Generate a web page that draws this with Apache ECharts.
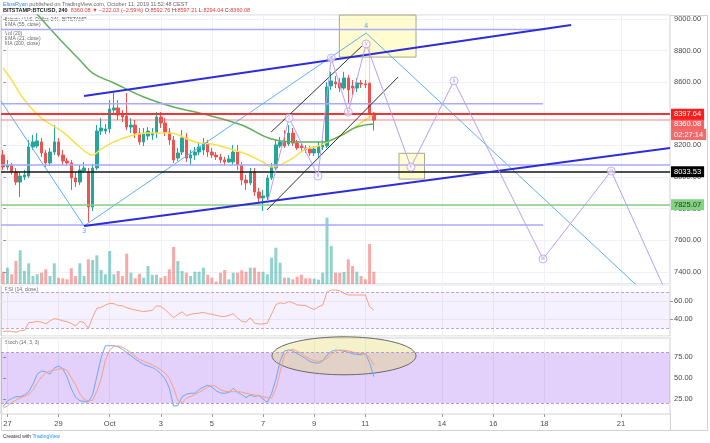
<!DOCTYPE html>
<html>
<head>
<meta charset="utf-8">
<title>BTCUSD 240</title>
<script src="https://cdn.jsdelivr.net/npm/echarts@6.0.0/dist/echarts.min.js"></script>
<style>
  html, body { margin: 0; padding: 0; background: #fff; }
  #main { width: 710px; height: 443px; }
</style>
</head>
<body>
<div id="main"></div>
<script>
var FONT = 'Liberation Sans, Arial, sans-serif';

// 4h bars, bar 0 = Sep 26 20:00
var barCount = 157;
var dayBars = [1, 13, 25, 37, 49, 61, 73, 85, 103, 115, 127, 145];
var dayLabels = ['27', '29', 'Oct', '3', '5', '7', '9', '11', '14', '16', '18', '21'];

// [open, close, low, high]
var candles = [
  [8139,8063,8044,8171],[8063,8076,8044,8108],[8076,8032,8013,8089],[8032,7968,7949,8057],
  [7968,8006,7873,8032],[8000,8013,7981,8044],[8006,8190,7994,8234],[8190,8222,8171,8266],
  [8196,8228,8184,8278],[8222,8152,8127,8247],[8152,8089,8063,8171],[8089,8158,8070,8184],
  [8158,8222,8139,8329],[8222,8139,8127,8247],[8139,8101,8076,8171],[8101,8089,8070,8120],
  [8089,7994,7918,8108],[7994,7968,7937,8032],[7968,8044,7949,8076],[8038,8057,8025,8095],
  [8032,7810,7715,8057],[7810,8057,7785,8082],[8057,8291,8044,8329],[8291,8310,8266,8373],
  [8291,8304,8272,8335],[8304,8430,8278,8487],[8424,8437,8399,8532],[8437,8392,8361,8487],
  [8392,8380,8348,8424],[8386,8316,8297,8532],[8316,8329,8278,8373],[8329,8278,8247,8361],
  [8278,8222,8203,8310],[8222,8278,8196,8310],[8259,8291,8234,8316],[8266,8278,8234,8310],
  [8278,8380,8247,8411],[8380,8342,8310,8411],[8342,8285,8259,8373],[8285,8234,8203,8310],
  [8234,8108,8089,8259],[8120,8152,8101,8184],[8158,8247,8139,8297],[8247,8120,8095,8278],
  [8120,8139,8076,8171],[8139,8158,8108,8190],[8158,8190,8139,8215],[8171,8215,8139,8247],
  [8215,8158,8127,8234],[8158,8139,8120,8184],[8139,8127,8108,8158],[8127,8108,8089,8146],
  [8108,8095,8070,8127],[8095,8114,8089,8139],[8095,8158,8076,8203],[8158,8076,8044,8203],
  [8076,7981,7949,8095],[7981,7962,7918,8013],[7962,8032,7949,8057],[8032,7905,7880,8057],
  [7905,7867,7835,7930],[7867,7880,7785,7918],[7873,7994,7854,8013],[7994,8063,7981,8089],
  [8057,8203,8044,8234],[8196,8222,8184,8253],[8222,8196,8184,8297],[8209,8278,8196,8329],
  [8278,8215,8196,8310],[8215,8184,8171,8234],[8196,8184,8165,8215],[8184,8171,8152,8203],
  [8177,8152,8133,8196],[8152,8177,8133,8196],[8152,8196,8120,8222],[8190,8203,8171,8234],
  [8196,8570,8184,8601],[8576,8608,8551,8665],[8601,8589,8563,8639],[8595,8563,8538,8627],
  [8563,8627,8551,8665],[8627,8551,8468,8646],[8576,8563,8519,8614],[8563,8595,8538,8627],
  [8595,8589,8563,8614],[8589,8582,8563,8614],[8592.76,8405,8392,8597.21],[8405,8360.08,8294.04,8410]
];

var volumes = [
  1230,1630,970,2300,3370,1300,2070,800,970,1130,
  1470,800,2070,630,570,470,1570,800,2070,800,
  2470,2400,2870,1400,970,3300,970,1300,800,3030,
  1130,570,1030,630,1800,930,930,630,800,1470,
  3700,2300,1300,1130,800,1230,1230,1630,930,630,
  230,1130,1400,470,1130,1130,1370,1230,1630,1630,
  1230,1230,970,2630,3630,2130,630,630,470,730,
  930,570,570,530,430,1130,6630,3800,1130,1130,
  1200,2470,1800,1230,800,470,4000,1230
];

// [bar, price]
var ema21 = [[0,8690],[2,8614],[5,8487],[9,8373],[14,8285],[18,8190],[21,8139],[23,8177],
  [26,8222],[29,8253],[34,8278],[39,8278],[45,8222],[50,8203],[54,8171],[57,8146],[61,8095],
  [63,8063],[65,8076],[68,8120],[71,8177],[74,8196],[77,8234],[80,8272],[83,8323],[85,8361],[87,8399]];
var ma200 = [[1,9240],[8,9030],[13,8880],[18,8741],[21,8658],[26,8595],[33,8506],[40,8443],
  [48,8392],[56,8329],[63,8241],[70,8222],[75,8222],[79,8259],[83,8316],[87,8335]];

var rsi = [
  26,26.5,26.3,25.2,27,27.2,36,36.3,37.5,36.5,
  34.6,37.8,40.5,39.5,38,37,35,32.2,37.5,36,
  29.6,42,51.9,53,55.5,57.4,57,55,54.8,52.5,
  51.2,50,49,48.2,49,49.5,54.8,54,50.5,46,
  41.4,45,48,43.7,45.2,46,46.5,47.4,45.8,45.3,
  44,43,42.8,44,46,41,37.5,36.5,41.5,35.5,
  34.4,34.6,35.5,45.5,56,58,57,59.5,58,55.6,
  55.2,54.9,52.5,50.5,53.7,55.4,70,72.2,72.2,71.5,
  68.5,66.7,66.7,66.7,66.7,66.7,53.7,50
];
var stochK = [
  15.7,22.5,25.5,27.6,27.6,29.5,33.5,42.5,54.5,58.2,
  57.2,54.6,61.5,64.2,61,51,37,27,22.7,22,
  21.5,30,52,74,88.3,88.3,88.3,87,84,80,
  76.5,72.5,69,66,64,62.5,59.5,55,49,38,
  16.5,17,27.6,30.5,31.7,31.7,36,39,41.3,39,
  34.6,32,31.7,32.5,37.6,33,30,26.5,29.6,27.8,
  29.2,25,21,31.5,48,70,82,83.2,82,79,
  76,73,69.5,68,67.5,70,77,81.5,83.2,82.5,
  81.7,80.5,78.8,78,77.5,79.2,68,51.4
];
var stochD = [
  13.8,16.5,20.5,23.5,26,28.2,30.2,35.5,44,51,
  56,58,59.2,60.6,61,59,50,42,31,24.5,
  22.5,23.5,34,49,71,83,87.5,88,86.5,83.5,
  80,75.5,72,69.8,67.6,65.5,62.8,59.5,56,49.5,
  38,23,20.5,25.7,28,30,33,35.6,39,41.5,
  39.8,36,34,33.6,33.6,33.6,33,31.7,30.5,29.6,
  28.5,27.6,26.5,25.8,37,57,77,82.5,84,82,
  79,75.5,72.5,70.5,69.5,70.8,73,78,81.5,83.2,
  82.8,82.2,81,79.6,79,78.5,74,65.4
];

// drawings, [bar, price]
var redLevel = 8397.64;
var lastPrice = 8360.08;
var countdown = '02:27:14';
var blackLevel = 8033.53;
var greenLevel = 7825.07;
var lavenderShort = [8934, 8464, 7696];
var lavenderShortEnd = 126.7;
var lavenderLong = 8080;
var zigzag = [[-0.5,8481],[19,7690],[85.2,8911],[150.6,7266]];
var channelTop = [[19,8513],[133.3,8962]];
var channelBottom = [[19,7690],[156.5,8184]];
var blackTop = [[62.9,8285],[84.2,8829]];
var blackBottom = [[61.9,7791],[92.7,8633]];
var wavePath = [[62.2,7854],[67.1,8373],[73.9,8006],[77.0,8753],[81.0,8411],[85.2,8842],
  [95.7,8063],[105.8,8608],[126.7,7481],[142.7,8038],[156.5,7216]];
var waveLabels = [[67.1,8373,'i'],[73.9,8006,'ii'],[77.0,8753,'iii'],[81.0,8411,'iv'],[85.2,8842,'v'],
  [95.7,8063,'i'],[105.8,8608,'ii'],[126.7,7481,'iii'],[142.7,8038,'iv']];
var pivotLabels = [[19,7690,'3'],[85.2,8911,'4']];
var lastBarLine = [[86,8860],[86,8360]];
var topBox = [[78.9,9025],[96.9,8759]];
var smallBox = [[92.9,8150],[98.9,7987]];
// center bar, center value, radius in bars, radius in stoch units
var stochEllipse = [[80,76.3,16.9,22.6]];

var categories = [];
for (var i = 0; i < barCount; i++) categories.push('');
dayBars.forEach(function (b, k) { categories[b] = dayLabels[k]; });

var volumeData = volumes.map(function (v, i) {
  var up = candles[i][1] >= candles[i][0];
  return { value: v, itemStyle: { color: up ? 'rgba(38,166,154,0.5)' : 'rgba(239,83,80,0.5)' } };
});

function onLabel(index, value) { return value !== ''; }

function path(name, pts, color, width, z, smooth) {
  return {
    name: name, type: 'line', xAxisIndex: 1, yAxisIndex: 0, data: pts,
    symbol: 'none', silent: true, smooth: smooth || false, z: z || 4,
    lineStyle: { color: color, width: width }
  };
}

function tag(bg, fg) {
  return {
    show: true, position: 'end', distance: 1, fontSize: 7.5, fontFamily: FONT,
    backgroundColor: bg, color: fg, padding: [2, 3, 1, 3],
    formatter: function (p) { return p.value.toFixed(2); }
  };
}

var myChart = echarts.init(document.getElementById('main'));

var series = [
  {
    name: 'BTCUSD', type: 'candlestick', xAxisIndex: 0, yAxisIndex: 0, data: candles,
    barWidth: '70%', z: 2,
    itemStyle: { color: '#26a69a', color0: '#ef5350', borderColor: '#26a69a', borderColor0: '#ef5350', borderWidth: 1 },
    markLine: {
      symbol: ['none', 'none'], silent: true, animation: false,
      data: [
        { yAxis: lastPrice, lineStyle: { color: 'rgba(239,83,80,0.35)', width: 2, type: 'solid' },
          label: { show: true, position: 'end', distance: 1, offset: [0, 9], fontFamily: FONT,
            formatter: '{p|' + lastPrice.toFixed(2) + '}\n{t|' + countdown + '}',
            rich: {
              p: { backgroundColor: '#f36464', color: '#fff', fontSize: 7.5, padding: [2, 3, 1, 3], fontFamily: FONT },
              t: { backgroundColor: '#f36a6a', color: '#fff', fontSize: 7.5, padding: [2, 3, 1, 3], fontFamily: FONT }
            } } },
        { yAxis: redLevel, lineStyle: { color: '#f23434', width: 2, type: 'solid' }, label: tag('#ff1c1c', '#fff') },
        { yAxis: blackLevel, lineStyle: { color: '#161616', width: 1.5, type: 'solid' }, label: tag('#000', '#fff') },
        { yAxis: greenLevel, lineStyle: { color: '#82cc82', width: 1.5, type: 'solid' }, label: tag('#84d084', '#173d17') },
        { yAxis: lavenderLong, lineStyle: { color: '#a9a9ff', width: 1.5, type: 'solid' }, label: { show: false } }
      ]
    }
  },
  { name: 'Volume', type: 'bar', xAxisIndex: 2, yAxisIndex: 1, data: volumeData, barWidth: '70%', z: 1, silent: true },
  path('EMA 21', ema21, '#f8e04a', 1.5, 3, 0.4),
  path('MA 200', ma200, '#5fae5c', 1.5, 3, 0.4)
];

lavenderShort.forEach(function (v) {
  series.push(path('level', [[-0.5, v], [lavenderShortEnd, v]], '#a9a9ff', 1.5, 3));
});

var zig = path('zigzag', zigzag, '#5cb0f2', 1, 4);
zig.markArea = {
  silent: true,
  itemStyle: { color: 'rgba(255,250,170,0.55)', borderColor: '#a8a890', borderWidth: 1 },
  data: [
    [{ coord: topBox[0] }, { coord: topBox[1] }],
    [{ coord: smallBox[0] }, { coord: smallBox[1] }]
  ]
};
series.push(zig);
series.push(path('channel top', channelTop, '#2d2ddb', 2, 5));
series.push(path('channel bottom', channelBottom, '#2d2ddb', 2, 5));
series.push(path('black top', blackTop, '#333', 1, 5));
series.push(path('black bottom', blackBottom, '#333', 1, 5));
series.push(path('waves', wavePath, '#b79ef0', 1, 5));
series.push(path('last bar', lastBarLine, 'rgba(239,83,80,0.35)', 1, 4));

series.push({
  name: 'wave labels', type: 'scatter', xAxisIndex: 1, yAxisIndex: 0, data: waveLabels,
  symbol: 'circle', symbolSize: 8, silent: true, z: 6,
  itemStyle: { color: 'rgba(255,255,255,0.8)', borderColor: '#b79ef0', borderWidth: 1 },
  label: { show: true, position: 'inside', fontSize: 5, color: '#9b7fe6', fontFamily: FONT,
    formatter: function (p) { return p.value[2]; } }
});
series.push({
  name: 'pivots', type: 'scatter', xAxisIndex: 1, yAxisIndex: 0, data: pivotLabels,
  symbolSize: 0, silent: true, z: 6,
  label: { show: true, fontSize: 7, color: '#3b8fe0', fontFamily: FONT, distance: 2,
    position: 'bottom',
    formatter: function (p) { return p.value[2]; } },
  labelLayout: function (p) { return p.dataIndex === 1 ? { dy: -12 } : {}; }
});

series.push({
  name: 'RSI', type: 'line', xAxisIndex: 3, yAxisIndex: 2, data: rsi, symbol: 'none', silent: true, z: 3,
  lineStyle: { color: '#f7a07e', width: 1 },
  markArea: { silent: true, itemStyle: { color: 'rgba(155,100,240,0.09)' }, data: [[{ yAxis: 30 }, { yAxis: 70 }]] },
  markLine: { silent: true, symbol: ['none', 'none'], label: { show: false },
    lineStyle: { color: '#bba8d8', type: [3, 2], width: 1 }, data: [{ yAxis: 70 }, { yAxis: 30 }] }
});
series.push({
  name: 'Ellipse', type: 'custom', xAxisIndex: 5, yAxisIndex: 3, data: stochEllipse, clip: false, silent: true, z: 2,
  renderItem: function (params, api) {
    var c = api.coord([api.value(0), api.value(1)]);
    var s = api.size([api.value(2), api.value(3)]);
    var pts = [];
    for (var k = 0; k < 72; k++) {
      var a = k / 72 * Math.PI * 2;
      pts.push([c[0] + s[0] * Math.cos(a), c[1] + s[1] * Math.sin(a)]);
    }
    return { type: 'polygon', shape: { points: pts },
      style: { fill: 'rgba(225,210,90,0.32)', stroke: '#6a6a6a', lineWidth: 1 } };
  }
});
series.push({
  name: '%K', type: 'line', xAxisIndex: 4, yAxisIndex: 3, data: stochK, symbol: 'none', silent: true, z: 4,
  lineStyle: { color: '#6ea8f6', width: 1 },
  markArea: { silent: true, itemStyle: { color: 'rgba(150,80,240,0.27)' }, data: [[{ yAxis: 20 }, { yAxis: 80 }]] },
  markLine: { silent: true, symbol: ['none', 'none'], label: { show: false },
    lineStyle: { color: '#b49ad6', type: [3, 2], width: 1 }, data: [{ yAxis: 80 }, { yAxis: 20 }] }
});
series.push({
  name: '%D', type: 'line', xAxisIndex: 4, yAxisIndex: 3, data: stochD, symbol: 'none', silent: true, z: 4,
  lineStyle: { color: '#f5a283', width: 1 }
});

var gridLine = { show: true, interval: onLabel, alignWithLabel: true, lineStyle: { color: '#eef1f7', width: 1 } };
var axisText = { color: '#4b4b4b', fontSize: 7.5, fontFamily: FONT };

var option = {
  animation: false,
  backgroundColor: '#fff',
  textStyle: { fontFamily: FONT },
  grid: [
    { left: 1, right: 40, top: 15, height: 269, show: true, borderColor: '#d2d2d2', borderWidth: 1 },
    { left: 1, right: 40, top: 214, height: 70 },
    { left: 1, right: 40, top: 285, height: 51, show: true, borderColor: '#d2d2d2', borderWidth: 1 },
    { left: 1, right: 40, top: 338, height: 76, show: true, borderColor: '#d2d2d2', borderWidth: 1 }
  ],
  xAxis: [
    { type: 'category', gridIndex: 0, data: categories, axisLine: { show: false }, axisTick: { show: false },
      axisLabel: { show: false }, splitLine: gridLine },
    { type: 'value', gridIndex: 0, min: -0.5, max: barCount - 0.5, show: false },
    { type: 'category', gridIndex: 1, data: categories, show: false },
    { type: 'category', gridIndex: 2, data: categories, axisLine: { show: false }, axisTick: { show: false },
      axisLabel: { show: false }, splitLine: gridLine },
    { type: 'category', gridIndex: 3, data: categories, axisLine: { show: false },
      axisTick: { show: true, interval: onLabel, alignWithLabel: true, length: 3, lineStyle: { color: '#999' } },
      axisLabel: Object.assign({ interval: onLabel, margin: 6 }, axisText), splitLine: gridLine },
    { type: 'value', gridIndex: 3, min: -0.5, max: barCount - 0.5, show: false }
  ],
  yAxis: [
    { type: 'value', gridIndex: 0, position: 'right', min: 7322.8, max: 9025.3, minInterval: 200, maxInterval: 200,
      axisLine: { show: false }, axisTick: { show: true, length: 3, lineStyle: { color: '#999' } },
      axisLabel: Object.assign({ margin: 4, showMinLabel: false, showMaxLabel: false,
        formatter: function (v) { return v.toFixed(2); } }, axisText),
      splitLine: { lineStyle: { color: '#eef1f7' } } },
    { type: 'value', gridIndex: 1, min: 0, max: 7000, show: false },
    { type: 'value', gridIndex: 2, position: 'right', min: 21.1, max: 77.8, minInterval: 20, maxInterval: 20,
      axisLine: { show: false }, axisTick: { show: true, length: 3, lineStyle: { color: '#999' } },
      axisLabel: Object.assign({ margin: 4, showMinLabel: false, showMaxLabel: false,
        formatter: function (v) { return v.toFixed(2); } }, axisText),
      splitLine: { lineStyle: { color: '#f1f1f6' } } },
    { type: 'value', gridIndex: 3, position: 'right', min: 7, max: 97.5, minInterval: 25, maxInterval: 25,
      axisLine: { show: false }, axisTick: { show: true, length: 3, lineStyle: { color: '#999' } },
      axisLabel: Object.assign({ margin: 4, showMinLabel: false, showMaxLabel: false,
        formatter: function (v) { return v.toFixed(2); } }, axisText),
      splitLine: { show: false } }
  ],
  graphic: [
    { type: 'rect', silent: true, z: 0, shape: { x: 1.5, y: 15.5, width: 706, height: 415 },
      style: { fill: 'none', stroke: '#d2d2d2', lineWidth: 1 } },
    { type: 'line', silent: true, shape: { x1: 670.5, y1: 414, x2: 670.5, y2: 430 }, style: { stroke: '#d2d2d2' } },
    { type: 'text', x: 3, y: 4, silent: true, style: {
      text: '{u|EliosRyan} published on TradingView.com, October 11, 2019 11:52:48 CEST',
      fontSize: 5.5, fontFamily: FONT, fill: '#666', verticalAlign: 'middle',
      rich: { u: { fill: '#2a8de0', fontSize: 5.5, fontFamily: FONT } } } },
    { type: 'text', x: 3, y: 10.5, silent: true, style: {
      text: '{b|BITSTAMP:BTCUSD, 240}  {r|8360.08 \u25BC \u2212222.03 (\u22122.59%)} O:{r|8592.76} H:{r|8597.21} L:{r|8294.04} C:{r|8360.08}',
      fontSize: 5.5, fontFamily: FONT, fill: '#444', verticalAlign: 'middle',
      rich: {
        b: { fill: '#222', fontWeight: 'bold', fontSize: 5.5, fontFamily: FONT },
        r: { fill: '#e53935', fontSize: 5.5, fontFamily: FONT }
      } } },
    { type: 'text', x: 5, y: 20, silent: true, style: { text: 'Bitcoin / U.S. Dollar, 240, BITSTAMP', fontSize: 5, fontFamily: FONT, fill: '#555', verticalAlign: 'middle' } },
    { type: 'text', x: 5, y: 24.5, silent: true, style: { text: 'EMA (55, close)', fontSize: 5, fontFamily: FONT, fill: '#666', verticalAlign: 'middle' } },
    { type: 'text', x: 5, y: 33.5, silent: true, style: { text: 'Vol (20)', fontSize: 5, fontFamily: FONT, fill: '#666', verticalAlign: 'middle' } },
    { type: 'text', x: 5, y: 38.8, silent: true, style: { text: 'EMA (21, close)', fontSize: 5, fontFamily: FONT, fill: '#666', verticalAlign: 'middle' } },
    { type: 'text', x: 5, y: 44, silent: true, style: { text: 'MA (200, close)', fontSize: 5, fontFamily: FONT, fill: '#666', verticalAlign: 'middle' } },
    { type: 'text', x: 5, y: 289.5, silent: true, style: { text: 'RSI (14, close)', fontSize: 5, fontFamily: FONT, fill: '#666', verticalAlign: 'middle' } },
    { type: 'text', x: 5, y: 342.5, silent: true, style: { text: 'Stoch (14, 3, 3)', fontSize: 5, fontFamily: FONT, fill: '#666', verticalAlign: 'middle' } },
    { type: 'text', x: 3, y: 437, silent: true, style: {
      text: 'Created with {t|TradingView}', fontSize: 5, fontFamily: FONT, fill: '#333', verticalAlign: 'middle',
      rich: { t: { fill: '#2a8de0', fontSize: 5, fontFamily: FONT } } } }
  ],
  series: series
};

myChart.setOption(option);
</script>
</body>
</html>
